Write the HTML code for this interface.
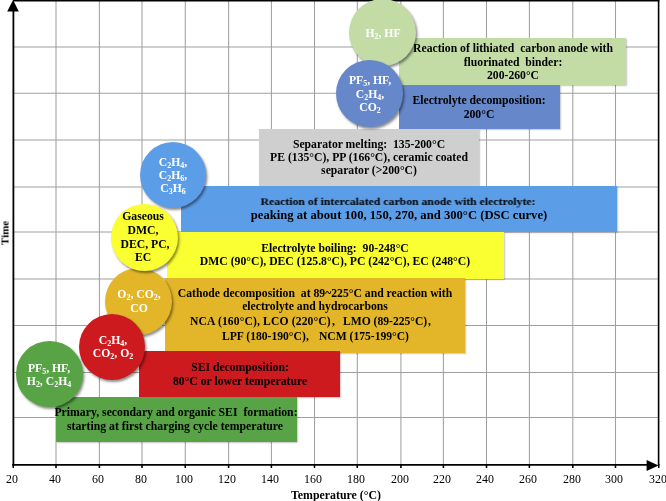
<!DOCTYPE html>
<html><head><meta charset="utf-8"><style>
html,body{margin:0;padding:0;}
body{width:666px;height:501px;overflow:hidden;position:relative;background:#fff;font-family:"Liberation Serif",serif;}
.bg{position:absolute;left:0;top:0;}
.ln{position:absolute;white-space:nowrap;font-weight:bold;transform:translateX(-50%);will-change:transform;}
.bx{position:absolute;box-shadow:0.8px 0.8px 1.2px rgba(0,0,0,0.22);}
.ci{position:absolute;border-radius:50%;box-shadow:1.5px 2px 2.5px rgba(0,0,0,0.45);}
sub{font-size:0.68em;vertical-align:-0.3em;line-height:0;}
</style></head><body>
<svg class="bg" width="666" height="501" viewBox="0 0 666 501">
<line x1="56.00" y1="0" x2="56.00" y2="468" stroke="#a0a0a0" stroke-width="1.05"/>
<line x1="99.40" y1="0" x2="99.40" y2="468" stroke="#a0a0a0" stroke-width="1.05"/>
<line x1="142.00" y1="0" x2="142.00" y2="468" stroke="#a0a0a0" stroke-width="1.05"/>
<line x1="185.30" y1="0" x2="185.30" y2="468" stroke="#a0a0a0" stroke-width="1.05"/>
<line x1="228.60" y1="0" x2="228.60" y2="468" stroke="#a0a0a0" stroke-width="1.05"/>
<line x1="271.40" y1="0" x2="271.40" y2="468" stroke="#a0a0a0" stroke-width="1.05"/>
<line x1="314.50" y1="0" x2="314.50" y2="468" stroke="#a0a0a0" stroke-width="1.05"/>
<line x1="357.30" y1="0" x2="357.30" y2="468" stroke="#a0a0a0" stroke-width="1.05"/>
<line x1="400.90" y1="0" x2="400.90" y2="468" stroke="#a0a0a0" stroke-width="1.05"/>
<line x1="443.40" y1="0" x2="443.40" y2="468" stroke="#a0a0a0" stroke-width="1.05"/>
<line x1="486.50" y1="0" x2="486.50" y2="468" stroke="#a0a0a0" stroke-width="1.05"/>
<line x1="529.40" y1="0" x2="529.40" y2="468" stroke="#a0a0a0" stroke-width="1.05"/>
<line x1="572.80" y1="0" x2="572.80" y2="468" stroke="#a0a0a0" stroke-width="1.05"/>
<line x1="615.50" y1="0" x2="615.50" y2="468" stroke="#a0a0a0" stroke-width="1.05"/>
<line x1="13" y1="417.40" x2="658.5" y2="417.40" stroke="#a0a0a0" stroke-width="1.05"/>
<line x1="13" y1="372.40" x2="658.5" y2="372.40" stroke="#a0a0a0" stroke-width="1.05"/>
<line x1="13" y1="325.45" x2="658.5" y2="325.45" stroke="#a0a0a0" stroke-width="1.05"/>
<line x1="13" y1="278.90" x2="658.5" y2="278.90" stroke="#a0a0a0" stroke-width="1.05"/>
<line x1="13" y1="231.90" x2="658.5" y2="231.90" stroke="#a0a0a0" stroke-width="1.05"/>
<line x1="13" y1="186.90" x2="658.5" y2="186.90" stroke="#a0a0a0" stroke-width="1.05"/>
<line x1="13" y1="140.00" x2="658.5" y2="140.00" stroke="#a0a0a0" stroke-width="1.05"/>
<line x1="13" y1="93.30" x2="658.5" y2="93.30" stroke="#a0a0a0" stroke-width="1.05"/>
<line x1="13" y1="47.00" x2="658.5" y2="47.00" stroke="#a0a0a0" stroke-width="1.05"/>
<line x1="13.20" y1="464" x2="13.20" y2="468" stroke="#000" stroke-width="1.5"/>
<line x1="56.00" y1="464" x2="56.00" y2="468" stroke="#000" stroke-width="1.5"/>
<line x1="99.40" y1="464" x2="99.40" y2="468" stroke="#000" stroke-width="1.5"/>
<line x1="142.00" y1="464" x2="142.00" y2="468" stroke="#000" stroke-width="1.5"/>
<line x1="185.30" y1="464" x2="185.30" y2="468" stroke="#000" stroke-width="1.5"/>
<line x1="228.60" y1="464" x2="228.60" y2="468" stroke="#000" stroke-width="1.5"/>
<line x1="271.40" y1="464" x2="271.40" y2="468" stroke="#000" stroke-width="1.5"/>
<line x1="314.50" y1="464" x2="314.50" y2="468" stroke="#000" stroke-width="1.5"/>
<line x1="357.30" y1="464" x2="357.30" y2="468" stroke="#000" stroke-width="1.5"/>
<line x1="400.90" y1="464" x2="400.90" y2="468" stroke="#000" stroke-width="1.5"/>
<line x1="443.40" y1="464" x2="443.40" y2="468" stroke="#000" stroke-width="1.5"/>
<line x1="486.50" y1="464" x2="486.50" y2="468" stroke="#000" stroke-width="1.5"/>
<line x1="529.40" y1="464" x2="529.40" y2="468" stroke="#000" stroke-width="1.5"/>
<line x1="572.80" y1="464" x2="572.80" y2="468" stroke="#000" stroke-width="1.5"/>
<line x1="615.50" y1="464" x2="615.50" y2="468" stroke="#000" stroke-width="1.5"/>
<line x1="658.80" y1="464" x2="658.80" y2="468" stroke="#000" stroke-width="1.5"/>
<line x1="13" y1="0.7" x2="659.3" y2="0.7" stroke="#000" stroke-width="1.5"/>
<line x1="658.6" y1="0" x2="658.6" y2="465.5" stroke="#000" stroke-width="1.6"/>
<line x1="13.4" y1="10" x2="13.4" y2="466" stroke="#000" stroke-width="1.8"/>
<polygon points="13.1,0 7.2,11.4 18.8,11.4" fill="#000"/>
<line x1="12.5" y1="464.9" x2="648" y2="464.9" stroke="#000" stroke-width="1.8"/>
<polygon points="658.6,465.4 646.6,459.9 646.6,470.9" fill="#000"/>
</svg>
<div class="ln" style="left:12.00px;top:474px;font-size:11.9px;line-height:11.9px;color:#000;font-weight:normal;">20</div>
<div class="ln" style="left:54.80px;top:474px;font-size:11.9px;line-height:11.9px;color:#000;font-weight:normal;">40</div>
<div class="ln" style="left:98.20px;top:474px;font-size:11.9px;line-height:11.9px;color:#000;font-weight:normal;">60</div>
<div class="ln" style="left:140.80px;top:474px;font-size:11.9px;line-height:11.9px;color:#000;font-weight:normal;">80</div>
<div class="ln" style="left:184.10px;top:474px;font-size:11.9px;line-height:11.9px;color:#000;font-weight:normal;">100</div>
<div class="ln" style="left:227.40px;top:474px;font-size:11.9px;line-height:11.9px;color:#000;font-weight:normal;">120</div>
<div class="ln" style="left:270.20px;top:474px;font-size:11.9px;line-height:11.9px;color:#000;font-weight:normal;">140</div>
<div class="ln" style="left:313.30px;top:474px;font-size:11.9px;line-height:11.9px;color:#000;font-weight:normal;">160</div>
<div class="ln" style="left:356.10px;top:474px;font-size:11.9px;line-height:11.9px;color:#000;font-weight:normal;">180</div>
<div class="ln" style="left:399.70px;top:474px;font-size:11.9px;line-height:11.9px;color:#000;font-weight:normal;">200</div>
<div class="ln" style="left:442.20px;top:474px;font-size:11.9px;line-height:11.9px;color:#000;font-weight:normal;">220</div>
<div class="ln" style="left:485.30px;top:474px;font-size:11.9px;line-height:11.9px;color:#000;font-weight:normal;">240</div>
<div class="ln" style="left:528.20px;top:474px;font-size:11.9px;line-height:11.9px;color:#000;font-weight:normal;">260</div>
<div class="ln" style="left:571.60px;top:474px;font-size:11.9px;line-height:11.9px;color:#000;font-weight:normal;">280</div>
<div class="ln" style="left:614.30px;top:474px;font-size:11.9px;line-height:11.9px;color:#000;font-weight:normal;">300</div>
<div class="ln" style="left:657.60px;top:474px;font-size:11.9px;line-height:11.9px;color:#000;font-weight:normal;">320</div>
<div class="ln" style="left:336.00px;top:490px;font-size:11.85px;line-height:11.85px;color:#000;">Temperature (°C)</div>
<div class="ln" style="left:4.6px;top:232.8px;font-size:11px;line-height:11px;transform:translate(-50%,-50%) rotate(-90deg);">Time</div>
<div class="bx" style="left:399.4px;top:37.7px;width:227.00px;height:47.20px;background:#c3dca6;z-index:2;"></div>
<div class="ln" style="left:512.90px;top:43px;font-size:11.7px;line-height:11.7px;color:#000;z-index:10;">Reaction of lithiated&nbsp; carbon anode with</div>
<div class="ln" style="left:512.90px;top:57px;font-size:11.7px;line-height:11.7px;color:#000;z-index:10;">fluorinated&nbsp; binder:</div>
<div class="ln" style="left:512.90px;top:70px;font-size:11.7px;line-height:11.7px;color:#000;z-index:10;">200-260°C</div>
<div class="bx" style="left:399.4px;top:84.9px;width:160.40px;height:43.80px;background:#6687c9;z-index:3;"></div>
<div class="ln" style="left:478.90px;top:95px;font-size:11.7px;line-height:11.7px;color:#000;z-index:10;">Electrolyte decomposition:</div>
<div class="ln" style="left:478.90px;top:109px;font-size:11.7px;line-height:11.7px;color:#000;z-index:10;">200°C</div>
<div class="bx" style="left:259.3px;top:129.3px;width:219.70px;height:56.70px;background:#cfcfcf;z-index:4;"></div>
<div class="ln" style="left:369.15px;top:139px;font-size:11.7px;line-height:11.7px;color:#000;z-index:10;">Separator melting:&nbsp; 135-200°C</div>
<div class="ln" style="left:369.15px;top:152px;font-size:11.7px;line-height:11.7px;color:#000;z-index:10;">PE (135°C), PP (166°C), ceramic coated</div>
<div class="ln" style="left:369.15px;top:165px;font-size:11.7px;line-height:11.7px;color:#000;z-index:10;">separator (&gt;200°C)</div>
<div class="bx" style="left:180.5px;top:186px;width:436.30px;height:45.80px;background:#5c9de8;z-index:5;"></div>
<div class="ln" style="left:397.90px;top:196px;font-size:11.75px;line-height:11.75px;color:#000;transform:translateX(-50%) scaleY(0.82);transform-origin:50% 9px;z-index:10;">Reaction of intercalated carbon anode with electrolyte:</div>
<div class="ln" style="left:398.65px;top:209px;font-size:12.65px;line-height:12.65px;color:#000;z-index:10;">peaking at about 100, 150, 270, and 300°C (DSC curve)</div>
<div class="bx" style="left:166.8px;top:231.8px;width:337.00px;height:47.20px;background:#faff31;z-index:6;"></div>
<div class="ln" style="left:335.30px;top:243px;font-size:11.7px;line-height:11.7px;color:#000;z-index:10;">Electrolyte boiling:&nbsp; 90-248°C</div>
<div class="ln" style="left:335.30px;top:256px;font-size:11.7px;line-height:11.7px;color:#000;z-index:10;">DMC (90°C), DEC (125.8°C), PC (242°C), EC (248°C)</div>
<div class="bx" style="left:165.2px;top:277.5px;width:299.90px;height:75.10px;background:#e3b629;z-index:7;"></div>
<div class="ln" style="left:315.15px;top:288px;font-size:11.7px;line-height:11.7px;color:#000;z-index:10;">Cathode decomposition&nbsp; at 89~225°C and reaction with</div>
<div class="ln" style="left:315.15px;top:301px;font-size:11.7px;line-height:11.7px;color:#000;z-index:10;">electrolyte and hydrocarbons</div>
<div class="ln" style="left:190.10px;top:316px;font-size:11.6px;line-height:11.6px;color:#000;transform:none;z-index:10;letter-spacing:0.14px;">NCA (160°C), LCO (220°C)</div>
<div class="ln" style="left:332.20px;top:316px;font-size:11.6px;line-height:11.6px;color:#000;transform:none;z-index:10;">,</div>
<div class="ln" style="left:342.90px;top:316px;font-size:11.6px;line-height:11.6px;color:#000;transform:none;z-index:10;">LMO (89-225°C)</div>
<div class="ln" style="left:427.80px;top:316px;font-size:11.6px;line-height:11.6px;color:#000;transform:none;z-index:10;">,</div>
<div class="ln" style="left:221.50px;top:331px;font-size:11.6px;line-height:11.6px;color:#000;transform:none;z-index:10;">LPF (180-190°C)</div>
<div class="ln" style="left:306.30px;top:331px;font-size:11.6px;line-height:11.6px;color:#000;transform:none;z-index:10;">,</div>
<div class="ln" style="left:319.20px;top:331px;font-size:11.6px;line-height:11.6px;color:#000;transform:none;z-index:10;">NCM (175-199°C)</div>
<div class="bx" style="left:139.3px;top:351px;width:200.70px;height:46.30px;background:#cc1a1f;z-index:8;"></div>
<div class="ln" style="left:239.65px;top:362px;font-size:11.7px;line-height:11.7px;color:#000;z-index:10;">SEI decomposition:</div>
<div class="ln" style="left:239.65px;top:376px;font-size:11.7px;line-height:11.7px;color:#000;z-index:10;">80°C or lower temperature</div>
<div class="bx" style="left:55.7px;top:397.3px;width:241.20px;height:45.00px;background:#57a346;z-index:9;"></div>
<div class="ln" style="left:175.60px;top:407px;font-size:11.75px;line-height:11.75px;color:#000;z-index:10;">Primary, secondary and organic SEI&nbsp; formation:</div>
<div class="ln" style="left:175.20px;top:421px;font-size:11.75px;line-height:11.75px;color:#000;z-index:10;">starting at first charging cycle temperature</div>
<div class="ci" style="left:349.10px;top:-1.15px;width:67.1px;height:67.1px;background:#c3dca6;z-index:20;"></div>
<div class="ln" style="left:382.65px;top:28px;font-size:11.7px;line-height:11.7px;color:#fff;z-index:20;">H<sub>2</sub>, HF</div>
<div class="ci" style="left:336.30px;top:60.15px;width:66.8px;height:66.8px;background:#6687c9;z-index:21;"></div>
<div class="ln" style="left:369.70px;top:75px;font-size:11.7px;line-height:11.7px;color:#fff;z-index:21;">PF<sub>5</sub>, HF,</div>
<div class="ln" style="left:369.70px;top:89px;font-size:11.7px;line-height:11.7px;color:#fff;z-index:21;">C<sub>2</sub>H<sub>4</sub>,</div>
<div class="ln" style="left:369.70px;top:102px;font-size:11.7px;line-height:11.7px;color:#fff;z-index:21;">CO<sub>2</sub></div>
<div class="ci" style="left:140.00px;top:141.60px;width:66px;height:66px;background:#5c9de8;z-index:20;"></div>
<div class="ln" style="left:173.00px;top:157px;font-size:11.7px;line-height:11.7px;color:#fff;z-index:20;">C<sub>2</sub>H<sub>4</sub>,</div>
<div class="ln" style="left:173.00px;top:170px;font-size:11.7px;line-height:11.7px;color:#fff;z-index:20;">C<sub>2</sub>H<sub>6</sub>,</div>
<div class="ln" style="left:173.00px;top:183px;font-size:11.7px;line-height:11.7px;color:#fff;z-index:20;">C<sub>3</sub>H<sub>6</sub></div>
<div class="ci" style="left:105.20px;top:267.90px;width:67px;height:67px;background:#e3b629;z-index:20;"></div>
<div class="ln" style="left:138.70px;top:289px;font-size:11.7px;line-height:11.7px;color:#fff;z-index:20;">O<sub>2</sub>, CO<sub>2</sub>,</div>
<div class="ln" style="left:138.70px;top:303px;font-size:11.7px;line-height:11.7px;color:#fff;z-index:20;">CO</div>
<div class="ci" style="left:110.80px;top:203.80px;width:67px;height:67px;background:#faff31;z-index:21;"></div>
<div class="ln" style="left:142.90px;top:211px;font-size:11.7px;line-height:11.7px;color:#000;z-index:21;">Gaseous</div>
<div class="ln" style="left:142.90px;top:225px;font-size:11.7px;line-height:11.7px;color:#000;z-index:21;">DMC,</div>
<div class="ln" style="left:144.60px;top:239px;font-size:11.7px;line-height:11.7px;color:#000;z-index:21;">DEC, PC,</div>
<div class="ln" style="left:142.90px;top:252px;font-size:11.7px;line-height:11.7px;color:#000;z-index:21;">EC</div>
<div class="ci" style="left:79.05px;top:313.55px;width:66.3px;height:66.3px;background:#cc1a1f;z-index:22;"></div>
<div class="ln" style="left:112.90px;top:335px;font-size:11.7px;line-height:11.7px;color:#fff;z-index:22;">C<sub>2</sub>H<sub>4</sub>,</div>
<div class="ln" style="left:112.90px;top:348px;font-size:11.7px;line-height:11.7px;color:#fff;z-index:22;">CO<sub>2</sub>, O<sub>2</sub></div>
<div class="ci" style="left:16.15px;top:341.00px;width:66.5px;height:65.8px;background:#57a346;z-index:22;"></div>
<div class="ln" style="left:49.40px;top:363px;font-size:11.7px;line-height:11.7px;color:#fff;z-index:22;">PF<sub>5</sub>, HF,</div>
<div class="ln" style="left:49.40px;top:376px;font-size:11.7px;line-height:11.7px;color:#fff;z-index:22;">H<sub>2</sub>, C<sub>2</sub>H<sub>4</sub></div>
</body></html>
